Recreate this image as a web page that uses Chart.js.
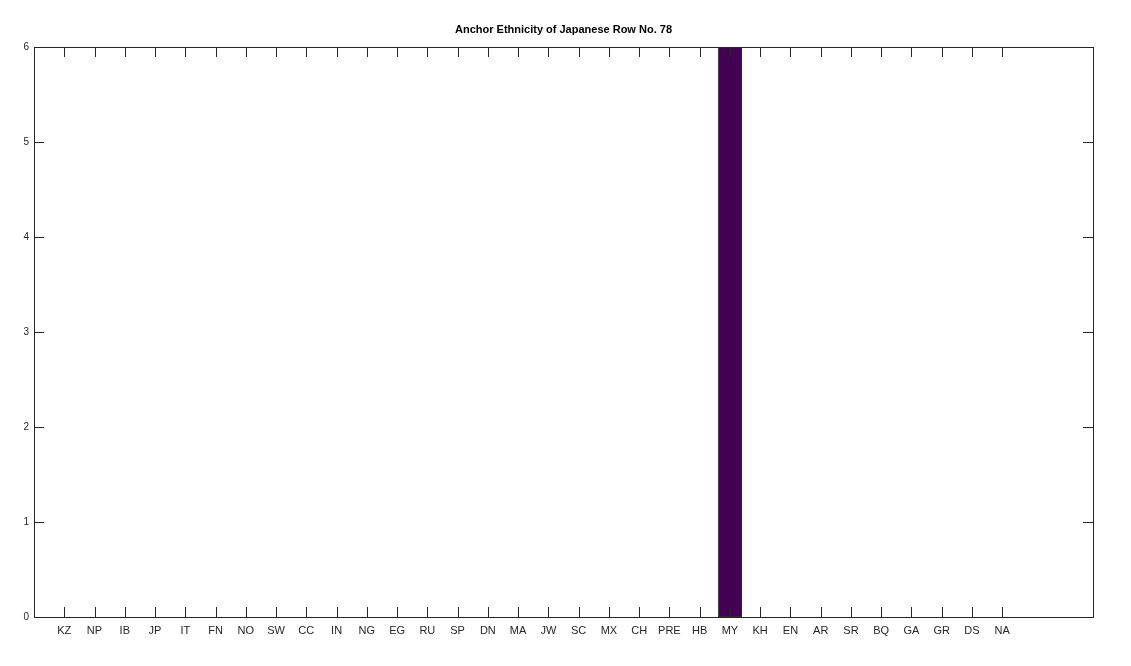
<!DOCTYPE html>
<html>
<head>
<meta charset="utf-8">
<script src="https://cdn.jsdelivr.net/npm/chart.js@4/dist/chart.umd.min.js"></script>
<style>
  html, body { margin: 0; padding: 0; background: #fff; }
  #wrap { width: 1131px; height: 666px; }
</style>
</head>
<body>
<div id="wrap"><canvas id="chart" width="1131" height="666"></canvas></div>
<script>
const categories = ['KZ', 'NP', 'IB', 'JP', 'IT', 'FN', 'NO', 'SW', 'CC', 'IN', 'NG', 'EG', 'RU', 'SP', 'DN', 'MA',
  'JW', 'SC', 'MX', 'CH', 'PRE', 'HB', 'MY', 'KH', 'EN', 'AR', 'SR', 'BQ', 'GA', 'GR', 'DS', 'NA'];
const counts = [0, 0, 0, 0, 0, 0, 0, 0, 0, 0, 0, 0, 0, 0, 0, 0,
  0, 0, 0, 0, 0, 0, 6, 0, 0, 0, 0, 0, 0, 0, 0, 0];
const yTicks = [0, 1, 2, 3, 4, 5, 6];
const titleText = 'Anchor Ethnicity of Japanese Row No. 78';

const ctx = document.getElementById('chart').getContext('2d');

// frame + inward tick marks, like octave
const frameTicks = {
  id: 'frameTicks',
  afterDatasetsDraw(chart) {
    const { ctx, chartArea: a, scales: { x, y } } = chart;
    ctx.save();
    ctx.strokeStyle = '#262626';
    ctx.lineWidth = 1;
    ctx.beginPath();
    categories.forEach((c, i) => {
      const px = Math.round(x.getPixelForValue(i)) + 0.5;
      ctx.moveTo(px, a.bottom); ctx.lineTo(px, a.bottom - 10);
      ctx.moveTo(px, a.top); ctx.lineTo(px, a.top + 10);
    });
    yTicks.forEach(v => {
      const py = Math.round(y.getPixelForValue(v)) + 0.5;
      ctx.moveTo(a.left, py); ctx.lineTo(a.left + 10, py);
      ctx.moveTo(a.right, py); ctx.lineTo(a.right - 10, py);
    });
    ctx.stroke();
    ctx.strokeRect(Math.round(a.left) + 0.5, Math.round(a.top) + 0.5,
      Math.round(a.right - a.left), Math.round(a.bottom - a.top));

    // title centred over the axes box
    ctx.fillStyle = '#000';
    ctx.font = 'bold 11px "Liberation Sans"';
    ctx.textAlign = 'center';
    ctx.textBaseline = 'middle';
    ctx.fillText(titleText, (a.left + a.right) / 2, 30);
    ctx.restore();
  }
};

new Chart(ctx, {
  type: 'bar',
  data: {
    datasets: [{
      data: categories.map((c, i) => ({ x: i, y: counts[i] })),
      backgroundColor: '#440154',
      borderColor: '#2b2b2b',
      borderWidth: 1,
      borderSkipped: false,
      barPercentage: 0.8,
      categoryPercentage: 1.0
    }]
  },
  options: {
    responsive: false,
    animation: false,
    layout: { padding: { top: 47, right: 38 } },
    plugins: {
      legend: { display: false },
      tooltip: { enabled: false },
      title: { display: false }
    },
    scales: {
      x: {
        type: 'linear',
        min: -1,
        max: 34,
        offset: false,
        grid: { display: false, drawTicks: false },
        border: { display: false },
        afterFit(s) { s.height = 49; },
        afterBuildTicks(s) {
          s.ticks = categories.map((c, i) => ({ value: i }));
        },
        ticks: {
          autoSkip: false,
          maxRotation: 0,
          padding: 7,
          color: '#262626',
          font: { family: 'Liberation Sans', size: 11 },
          callback: v => categories[v] || ''
        }
      },
      y: {
        min: 0,
        max: 6,
        grid: { display: false, drawTicks: false },
        border: { display: false },
        afterFit(s) { s.width = 34; },
        ticks: {
          stepSize: 1,
          padding: 5,
          color: '#262626',
          font: { family: 'Liberation Sans', size: 10 }
        }
      }
    }
  },
  plugins: [frameTicks]
});
</script>
</body>
</html>
